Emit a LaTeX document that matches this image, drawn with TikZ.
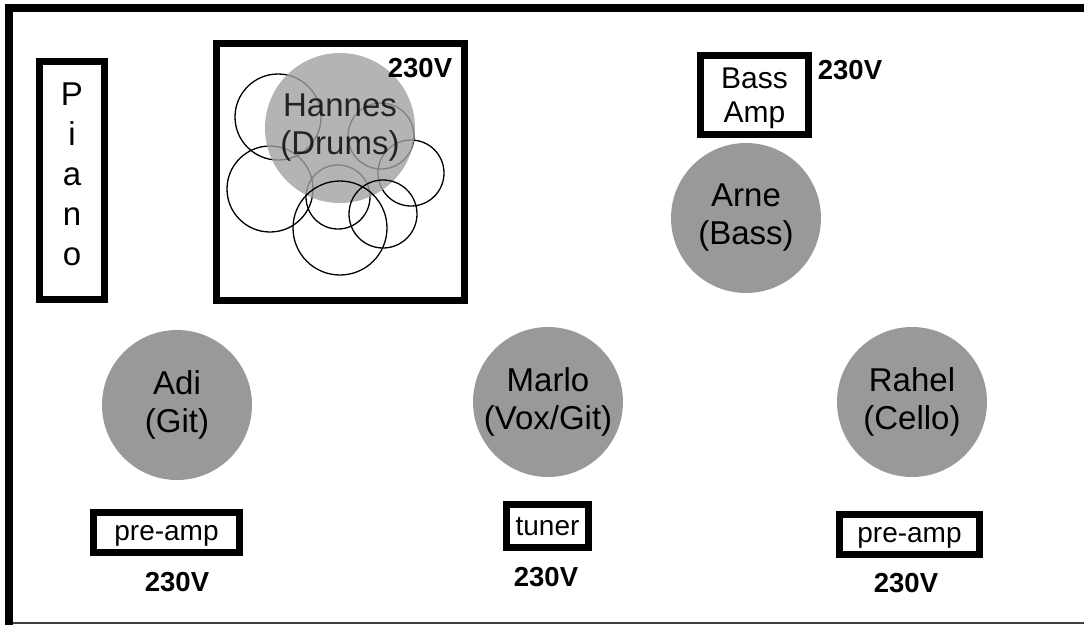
\documentclass[tikz,border=0pt]{standalone}
\usepackage{fontspec}
\setmainfont{Liberation Sans}
\begin{document}
\begin{tikzpicture}[x=1pt,y=-1pt,
    person/.style={circle,fill=black!40,minimum size=150pt,inner sep=0pt,align=center,font=\fontsize{33}{38}\selectfont},
    gear/.style={draw,line width=7pt,inner sep=0pt,align=center,font=\fontsize{28}{32}\selectfont},
    volt/.style={inner sep=0pt,font=\bfseries\fontsize{27.5}{32}\selectfont},
    drum/.style={line width=1.3pt}]
  \useasboundingbox (0,0) rectangle (1084,625);
  % stage frame
  \draw[line width=8pt] (9,625) -- (9,7.5) -- (1084,7.5);
  \draw[black!75,line width=1.5pt] (13,623) -- (1084,623);
  % piano
  \node[gear,minimum width=65pt,minimum height=238pt,text depth=12pt,font=\fontsize{33}{40}\selectfont] (piano) at (72,180.5) {P\\i\\a\\n\\o};
  % drums
  \node[gear,minimum width=248pt,minimum height=257pt] (drumkit) at (340.5,172) {};
  \draw[drum] (278,117) circle[radius=43];
  \draw[drum] (270,189) circle[radius=43];
  \draw[drum] (381,136) circle[radius=33];
  \draw[drum] (411,173) circle[radius=33];
  \draw[drum] (338,197) circle[radius=32];
  \node[person,fill=black!37,fill opacity=0.8] (hannes) at (340,128) {Hannes\\(Drums)};
  \draw[drum] (340,228) circle[radius=47];
  \draw[drum] (383,214) circle[radius=34];
  \node[volt] (vdrums) at (420,68) {230V};
  % bass
  \node[gear,minimum width=108pt,minimum height=79pt,text height=55pt,text depth=1pt,font=\fontsize{30}{34}\selectfont] (bassamp) at (754.5,95) {Bass\\Amp};
  \node[volt] (vbass) at (850,70) {230V};
  \node[person] (arne) at (746,218) {Arne\\(Bass)};
  % front row
  \node[person] (adi) at (177,405) {Adi\\(Git)};
  \node[person] (marlo) at (548,402) {Marlo\\(Vox/Git)};
  \node[person] (rahel) at (912,402) {Rahel\\(Cello)};
  \node[gear,minimum width=146pt,minimum height=40pt,text depth=0pt] (preampadi) at (166.5,532.5) {pre-amp};
  \node[gear,minimum width=82pt,minimum height=43pt,text depth=0pt] (tuner) at (547.5,526) {tuner};
  \node[gear,minimum width=140pt,minimum height=40pt,text depth=0pt] (preamprahel) at (909.5,534.5) {pre-amp};
  \node[volt] (vadi) at (177,582) {230V};
  \node[volt] (vmarlo) at (546,577) {230V};
  \node[volt] (vrahel) at (906,583) {230V};
\end{tikzpicture}
\end{document}
